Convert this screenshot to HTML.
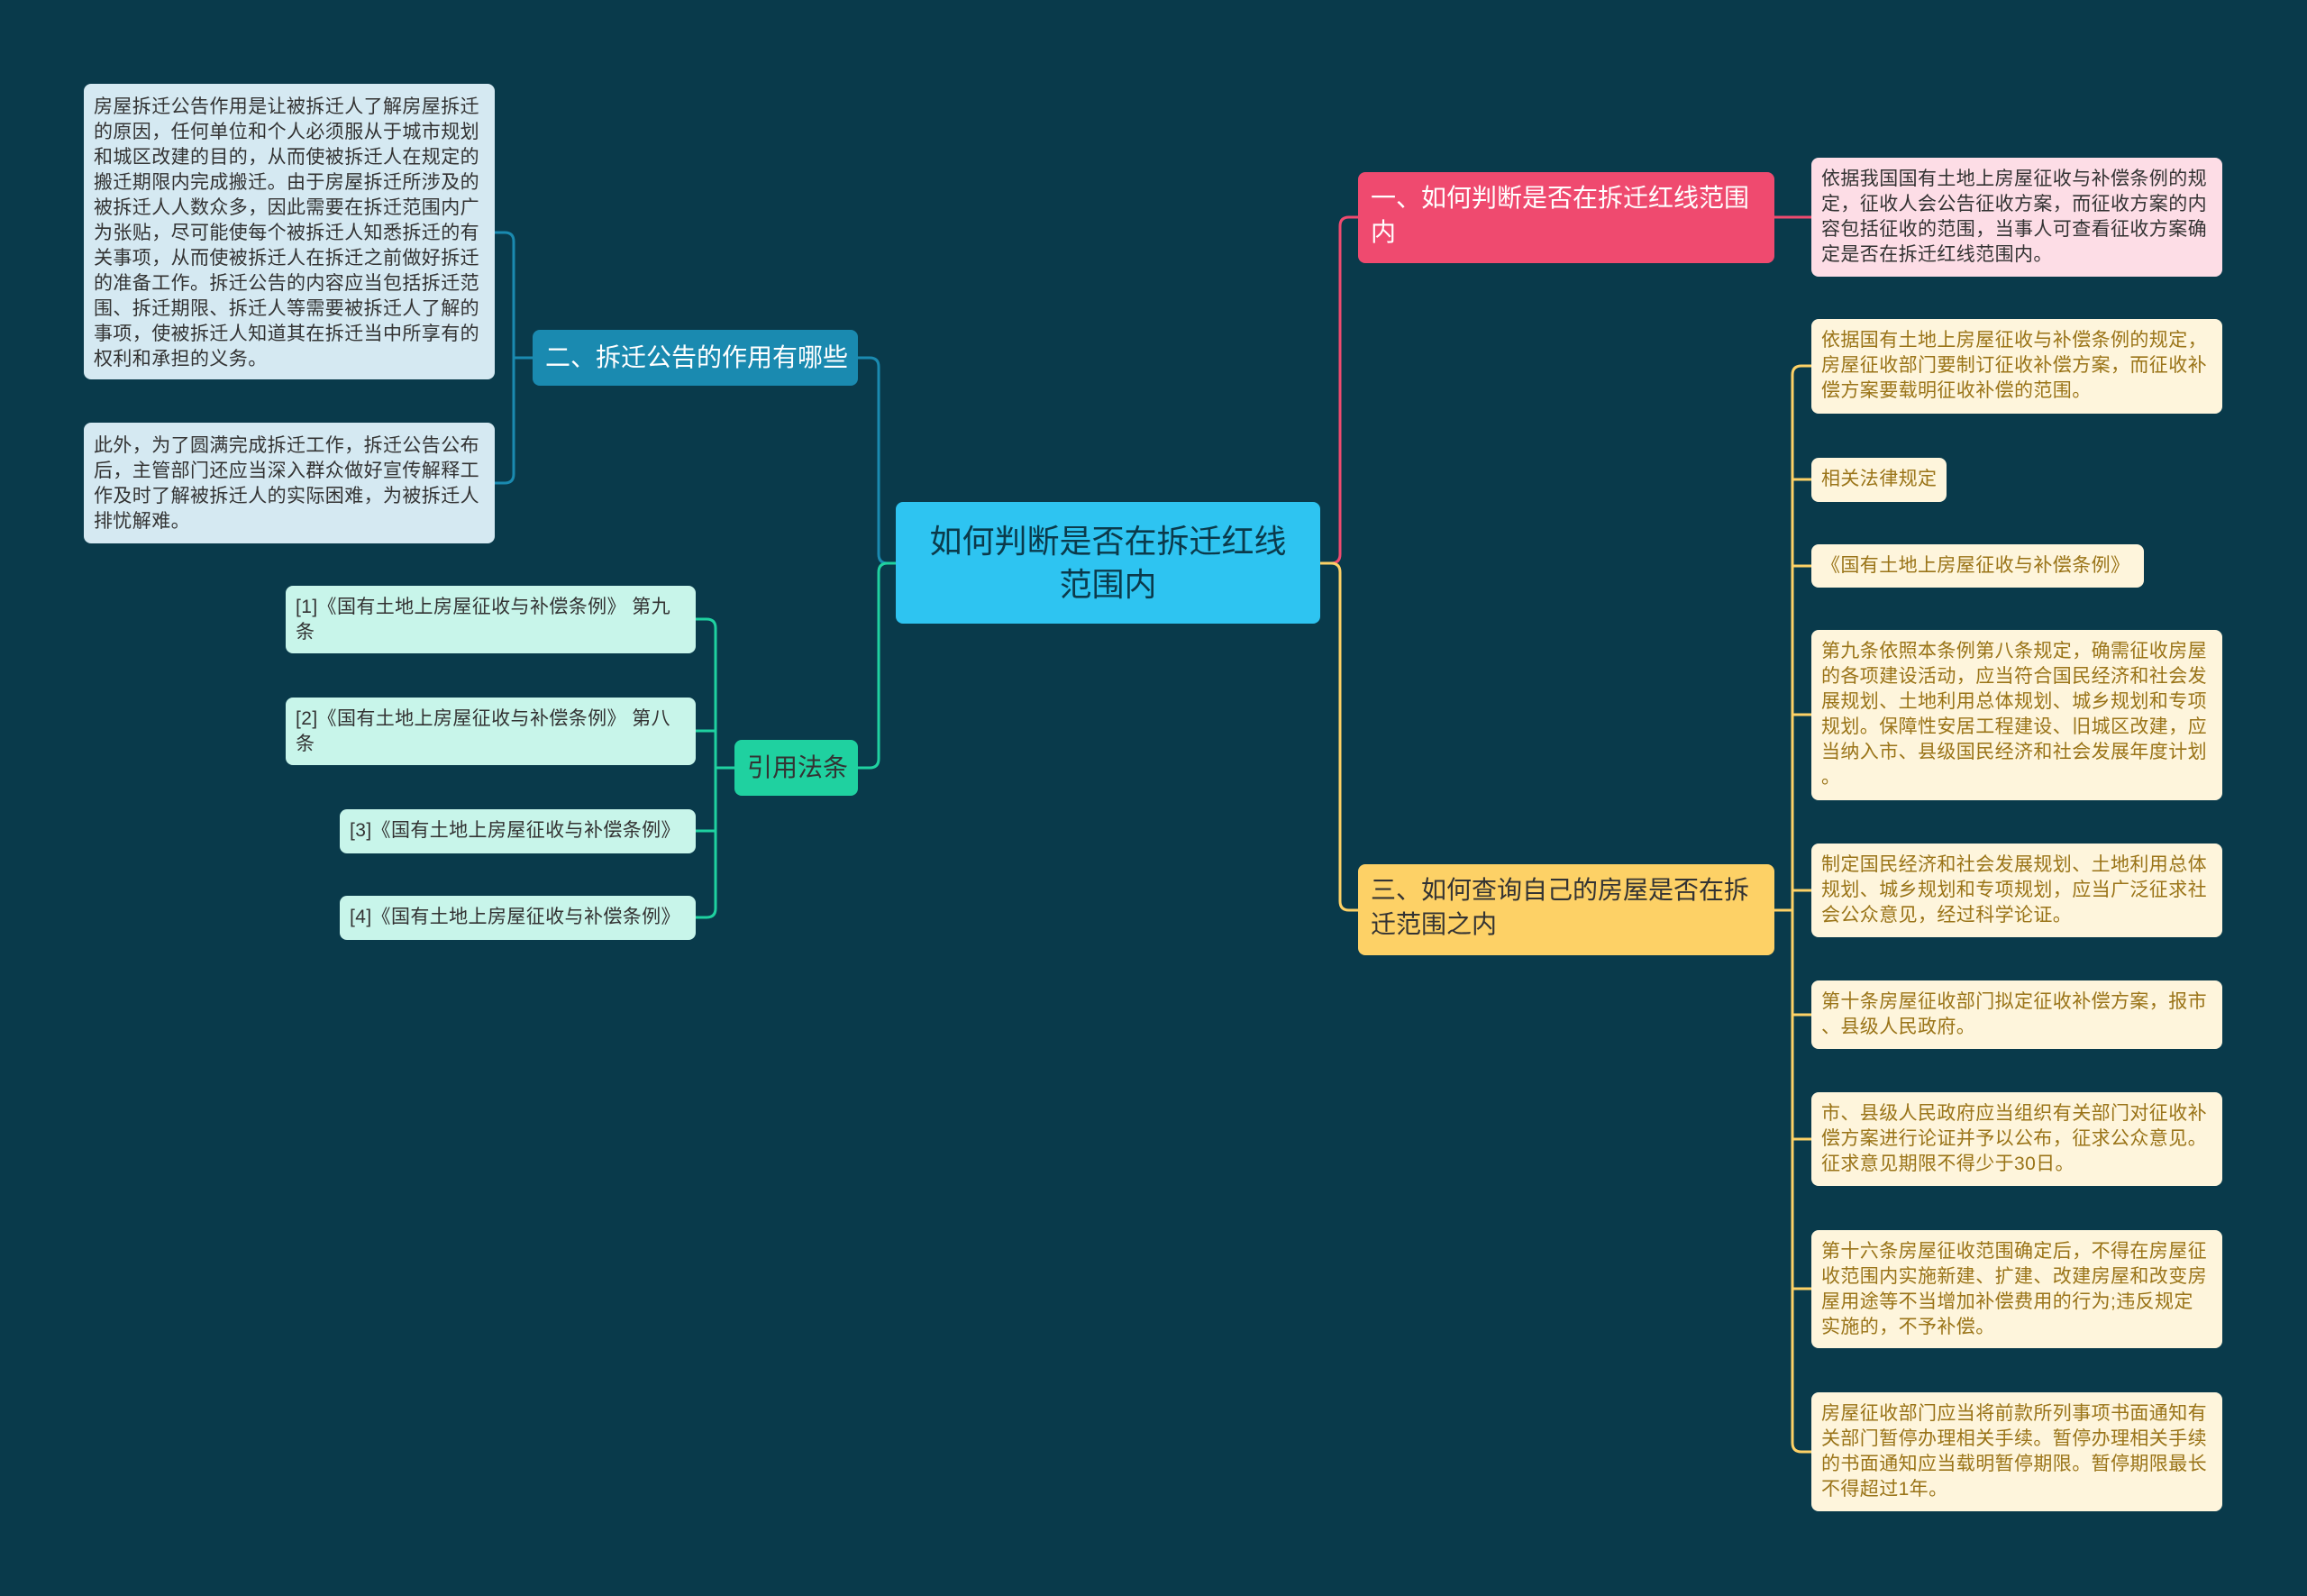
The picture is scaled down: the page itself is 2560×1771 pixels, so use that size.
<!DOCTYPE html>
<html><head><meta charset="utf-8"><style>
body{margin:0;width:2560px;height:1771px;background:#093a4b;position:relative;overflow:hidden;font-family:"Liberation Sans","Noto Sans CJK SC",sans-serif}
.n{position:absolute;box-sizing:border-box;border-radius:8px;white-space:nowrap}
.l{font-size:21px;line-height:28px;padding:10px 11px;letter-spacing:0.4px}
.b{font-size:28px;line-height:38px;padding:10px 14px}
svg{position:absolute;left:0;top:0}
</style></head><body>
<svg width="2560" height="1771" fill="none" stroke-width="3">
<path d="M1465 625 H1477 Q1487 625 1487 615 V251 Q1487 241 1497 241 H1507" stroke="#ef4a6f"/>
<path d="M1969 241 H2010" stroke="#ef4a6f"/>
<path d="M1465 625 H1477 Q1487 625 1487 635 V1000 Q1487 1010 1497 1010 H1507" stroke="#fdd166"/>
<g stroke="#fdd166">
<path d="M1969 1010 H1989"/>
<path d="M2010 406 H1999 Q1989 406 1989 416 V1601 Q1989 1611 1999 1611 H2010"/>
<path d="M1989 532 H2010 M1989 628 H2010 M1989 793 H2010 M1989 988 H2010 M1989 1126 H2010 M1989 1264 H2010 M1989 1430 H2010"/>
</g>
<path d="M994 625 H985 Q975 625 975 615 V407 Q975 397 965 397 H952" stroke="#1a8ab0"/>
<g stroke="#1a8ab0"><path d="M591 397 H570"/><path d="M549 258 H560 Q570 258 570 268 V526 Q570 536 560 536 H549"/></g>
<path d="M994 625 H985 Q975 625 975 635 V842 Q975 852 965 852 H952" stroke="#1fd1a0"/>
<g stroke="#1fd1a0"><path d="M815 852 H794"/><path d="M772 687 H784 Q794 687 794 697 V1008 Q794 1018 784 1018 H772"/><path d="M772 811 H794 M772 922 H794"/></g>
</svg>

<div class="n" style="left:994px;top:557px;width:471px;height:135px;background:#2ec4f1;color:#0b3a4b;font-size:36px;line-height:48px;text-align:center;padding-top:20px">如何判断是否在拆迁红线<br>范围内</div>

<div class="n b" style="left:1507px;top:191px;width:462px;height:101px;background:#ef4a6f;color:#fff">一、如何判断是否在拆迁红线范围<br>内</div>
<div class="n l" style="left:2010px;top:175px;width:456px;height:132px;background:#fddde6;color:#333">依据我国国有土地上房屋征收与补偿条例的规<br>定，征收人会公告征收方案，而征收方案的内<br>容包括征收的范围，当事人可查看征收方案确<br>定是否在拆迁红线范围内。</div>

<div class="n b" style="left:1507px;top:959px;width:462px;height:101px;background:#fdd166;color:#333">三、如何查询自己的房屋是否在拆<br>迁范围之内</div>

<div class="n l" style="left:2010px;top:354px;width:456px;height:105px;background:#fef5dc;color:#9a7418">依据国有土地上房屋征收与补偿条例的规定，<br>房屋征收部门要制订征收补偿方案，而征收补<br>偿方案要载明征收补偿的范围。</div>
<div class="n l" style="left:2010px;top:508px;width:150px;height:49px;background:#fef5dc;color:#9a7418">相关法律规定</div>
<div class="n l" style="left:2010px;top:604px;width:369px;height:48px;background:#fef5dc;color:#9a7418">《国有土地上房屋征收与补偿条例》</div>
<div class="n l" style="left:2010px;top:699px;width:456px;height:189px;background:#fef5dc;color:#9a7418">第九条依照本条例第八条规定，确需征收房屋<br>的各项建设活动，应当符合国民经济和社会发<br>展规划、土地利用总体规划、城乡规划和专项<br>规划。保障性安居工程建设、旧城区改建，应<br>当纳入市、县级国民经济和社会发展年度计划<br>。</div>
<div class="n l" style="left:2010px;top:936px;width:456px;height:104px;background:#fef5dc;color:#9a7418">制定国民经济和社会发展规划、土地利用总体<br>规划、城乡规划和专项规划，应当广泛征求社<br>会公众意见，经过科学论证。</div>
<div class="n l" style="left:2010px;top:1088px;width:456px;height:76px;background:#fef5dc;color:#9a7418">第十条房屋征收部门拟定征收补偿方案，报市<br>、县级人民政府。</div>
<div class="n l" style="left:2010px;top:1212px;width:456px;height:104px;background:#fef5dc;color:#9a7418">市、县级人民政府应当组织有关部门对征收补<br>偿方案进行论证并予以公布，征求公众意见。<br>征求意见期限不得少于30日。</div>
<div class="n l" style="left:2010px;top:1365px;width:456px;height:131px;background:#fef5dc;color:#9a7418">第十六条房屋征收范围确定后，不得在房屋征<br>收范围内实施新建、扩建、改建房屋和改变房<br>屋用途等不当增加补偿费用的行为;违反规定<br>实施的，不予补偿。</div>
<div class="n l" style="left:2010px;top:1545px;width:456px;height:132px;background:#fef5dc;color:#9a7418">房屋征收部门应当将前款所列事项书面通知有<br>关部门暂停办理相关手续。暂停办理相关手续<br>的书面通知应当载明暂停期限。暂停期限最长<br>不得超过1年。</div>

<div class="n b" style="left:591px;top:366px;width:361px;height:62px;background:#1a8ab0;color:#fff;padding-top:12px">二、拆迁公告的作用有哪些</div>
<div class="n l" style="left:93px;top:93px;width:456px;height:328px;background:#d5e9f2;color:#333;padding-top:12px">房屋拆迁公告作用是让被拆迁人了解房屋拆迁<br>的原因，任何单位和个人必须服从于城市规划<br>和城区改建的目的，从而使被拆迁人在规定的<br>搬迁期限内完成搬迁。由于房屋拆迁所涉及的<br>被拆迁人人数众多，因此需要在拆迁范围内广<br>为张贴，尽可能使每个被拆迁人知悉拆迁的有<br>关事项，从而使被拆迁人在拆迁之前做好拆迁<br>的准备工作。拆迁公告的内容应当包括拆迁范<br>围、拆迁期限、拆迁人等需要被拆迁人了解的<br>事项，使被拆迁人知道其在拆迁当中所享有的<br>权利和承担的义务。</div>
<div class="n l" style="left:93px;top:469px;width:456px;height:134px;background:#d5e9f2;color:#333;padding-top:12px">此外，为了圆满完成拆迁工作，拆迁公告公布<br>后，主管部门还应当深入群众做好宣传解释工<br>作及时了解被拆迁人的实际困难，为被拆迁人<br>排忧解难。</div>

<div class="n b" style="left:815px;top:821px;width:137px;height:62px;background:#1fd1a0;color:#333;padding-top:12px">引用法条</div>
<div class="n l" style="left:317px;top:650px;width:455px;height:75px;background:#c8f5ea;color:#333">[1]《国有土地上房屋征收与补偿条例》 第九<br>条</div>
<div class="n l" style="left:317px;top:774px;width:455px;height:75px;background:#c8f5ea;color:#333">[2]《国有土地上房屋征收与补偿条例》 第八<br>条</div>
<div class="n l" style="left:377px;top:898px;width:395px;height:49px;background:#c8f5ea;color:#333">[3]《国有土地上房屋征收与补偿条例》</div>
<div class="n l" style="left:377px;top:994px;width:395px;height:49px;background:#c8f5ea;color:#333">[4]《国有土地上房屋征收与补偿条例》</div>
</body></html>
